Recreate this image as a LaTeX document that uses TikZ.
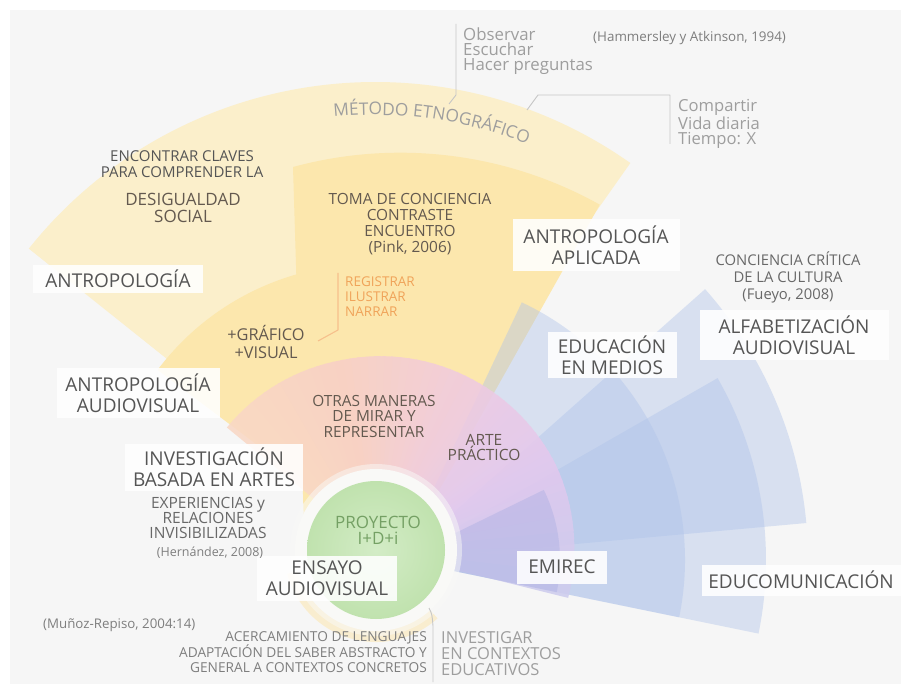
\documentclass[tikz,border=0pt]{standalone}
\usepackage{fontspec}
\setmainfont{Open Sans}
\usetikzlibrary{calc,decorations.text}
\newcommand\setfs[2]{\fontsize{#1}{#2}\selectfont}

\definecolor{bgray}{HTML}{F6F6F6}
\definecolor{ypale}{HTML}{FBEFCB}
\definecolor{ymid}{HTML}{FCE7AD}
\definecolor{blu}{HTML}{AFC3EA}
\definecolor{bluv}{HTML}{A6ACE0}
\definecolor{grn}{HTML}{C0E2AE}
\definecolor{grnlt}{HTML}{D3ECC6}
\definecolor{halo}{HTML}{F9F9F7}
\definecolor{rlav}{HTML}{CDCCEE}
\definecolor{rpur}{HTML}{E3C8EE}
\definecolor{rmag}{HTML}{EFCAE2}
\definecolor{rpink}{HTML}{F8CFC7}
\definecolor{rpeach}{HTML}{F9D8C6}
\definecolor{ryel}{HTML}{FAEBC6}
\definecolor{txtdark}{HTML}{555555}
\definecolor{txtbrown}{HTML}{63594F}
\definecolor{txtmid}{HTML}{686868}
\definecolor{txtlight}{HTML}{9E9E9E}
\definecolor{txtcite}{HTML}{7E7E7E}
\definecolor{txtorange}{HTML}{F0A45A}
\definecolor{txtgreen}{HTML}{74A064}
\definecolor{lnorange}{HTML}{F6C08C}
\definecolor{lngray}{HTML}{C6C6C6}

\begin{document}
\begin{tikzpicture}[x=1pt,y=-1pt,
  boxlbl/.style={fill=white, fill opacity=0.88, text opacity=1, text=txtdark,
    align=center, inner sep=0pt, font=\setfs{19}{21.5}},
  note/.style={align=center, inner sep=0pt},
  conn/.style={draw=lngray, line width=0.9pt, line join=round},
  bluesec/.style={fill=blu, fill opacity=0.42},
]
\useasboundingbox (0,0) rectangle (901,684);
\fill[white] (0,0) rectangle (901,684);
\fill[bgray] (10,10) rectangle (901,684);

\coordinate (cA) at (375,525);
\coordinate (cB) at (400,560);
\coordinate (cC) at (370,530);
\coordinate (cR) at (376,550);

% ethnographic method: outer band and inner sectors
\fill[ypale] (cA) -- ($(cA)+(-141.4:443)$) arc[start angle=-141.4,end angle=-54.8,radius=443] -- cycle;
\fill[ymid] (293,167) arc[start angle=-105.2,end angle=-60.8,radius=409] -- (cB) -- (305,560) -- cycle;
\fill[ymid] (cC) -- ($(cC)+(-143:266)$) arc[start angle=-143,end angle=-60,radius=266] -- cycle;

% media education sectors
\fill[bluesec] (cB) -- ($(cB)+(-5.2:408)$) arc[start angle=-5.2,end angle=-41.6,radius=408] -- cycle;
\fill[bluesec] (cB) -- ($(cB)+(11.6:366)$) arc[start angle=11.6,end angle=-29.8,radius=366] -- cycle;
\fill[bluesec] (cB) -- ($(cB)+(11.6:285)$) arc[start angle=11.6,end angle=-64.7,radius=285] -- cycle;

% arts ring with a colour sweep
\begin{scope}[transparency group, opacity=0.88]
\foreach \s/\e/\ca/\cb/\ra/\rb in {-14/25/rlav/rpur/198/199, 25/60/rpur/rmag/199/196,
    60/100/rmag/rpink/196/193, 100/140/rpink/rpeach/193/193}{
  \foreach \i in {0,...,15}{
    \pgfmathsetmacro\aa{-(\s+(\e-\s)*\i/16)}
    \pgfmathsetmacro\ab{-(\s+(\e-\s)*(\i+1)/16)-0.6}
    \pgfmathsetmacro\pc{100-100*(\i+0.5)/16}
    \pgfmathsetmacro\rr{\ra+(\rb-\ra)*(\i+0.5)/16}
    \fill[color=\ca!\pc!\cb] ($(cR)+(\aa:\rr)$) arc[start angle=\aa,end angle=\ab,radius=\rr]
      -- ($(cR)+(\ab:60)$) arc[start angle=\ab,end angle=\aa,radius=60] -- cycle;
  }
}
\end{scope}

% inner sector behind EMIREC
\fill[bluv, fill opacity=0.38] (cB) -- ($(cB)+(11.6:160)$) arc[start angle=11.6,end angle=-26,radius=160] -- cycle;

% project core: pale rim below, white halo, green disc
\fill[ryel, opacity=0.8] ($(cR)+(-195:92)$) arc[start angle=-195,end angle=-312,radius=92]
   -- ($(cR)+(-312:70)$) arc[start angle=-312,end angle=-195,radius=70] -- cycle;
\fill[halo, opacity=0.5] (cR) circle[radius=86];
\fill[halo] (cR) circle[radius=81];
\shade[inner color=grnlt, outer color=grn] (cR) circle[radius=69];

% curved title
\path[decorate, decoration={text along path, text align=center,
   text={|\setfs{17.3}{17.3}\color{txtlight}|MÉTODO ETNOGRÁFICO}}]
   ($(cA)+(-99:410)$) arc[start angle=-99,end angle=-65,radius=410];

% brackets
\coordinate (o1) at (456,24); \coordinate (o2) at (456,95); \coordinate (o3) at (449,104);
\draw[conn] (o1) -- (o2) -- (o3);
\coordinate (k1) at (527,110); \coordinate (k2) at (538,95);
\coordinate (k3) at (670,95); \coordinate (k4) at (670,144);
\draw[conn] (k1) -- (k2) -- (k3) -- (k4);
\coordinate (g1) at (338,273); \coordinate (g2) at (338,330); \coordinate (g3) at (318,341);
\draw[draw=lnorange, line width=1.1pt, line join=round] (g1) -- (g2) -- (g3);
\coordinate (iv1) at (429,608); \coordinate (iv2) at (433,626); \coordinate (iv3) at (433,682);
\draw[conn] (iv1) .. controls (432,614) .. (iv2) -- (iv3);

% boxed labels
\node[boxlbl, minimum width=170, minimum height=28] (antr) at (118,279) {ANTROPOLOGÍA};
\node[boxlbl, minimum width=163, minimum height=50] (antrav) at (138,393) {ANTROPOLOGÍA\\AUDIOVISUAL};
\node[boxlbl, minimum width=167, minimum height=52] (antrap) at (596,245) {ANTROPOLOGÍA\\APLICADA};
\node[boxlbl, minimum width=129, minimum height=46] (edmed) at (612,355) {EDUCACIÓN\\EN MEDIOS};
\node[boxlbl, minimum width=189, minimum height=50] (alfab) at (794,335) {ALFABETIZACIÓN\\AUDIOVISUAL};
\node[boxlbl, minimum width=178, minimum height=47] (invba) at (214,467) {INVESTIGACIÓN\\BASADA EN ARTES};
\node[boxlbl, minimum width=140, minimum height=45] (ensayo) at (327,578) {ENSAYO\\AUDIOVISUAL};
\node[boxlbl, minimum width=90, minimum height=33] (emirec) at (562,567) {EMIREC};
\node[boxlbl, minimum width=199, minimum height=31] (educom) at (801,580) {EDUCOMUNICACIÓN};

% free texts
\node[note, text=txtdark, font=\setfs{15}{16.5}] (encl) at (182,164) {ENCONTRAR CLAVES\\PARA COMPRENDER LA};
\node[note, text=txtbrown, font=\setfs{17}{17.5}] (desig) at (183,208) {DESIGUALDAD\\SOCIAL};
\node[note, text=txtbrown, font=\setfs{15.4}{15.8}] (toma) at (410,224) {TOMA DE CONCIENCIA\\CONTRASTE\\ENCUENTRO\\(Pink, 2006)};
\node[note, align=left, anchor=west, text=txtorange, font=\setfs{13.5}{15}] (regis) at (345,297) {REGISTRAR\\ILUSTRAR\\NARRAR};
\node[note, text=txtbrown, font=\setfs{16.3}{18}] (graf) at (266,342) {+GRÁFICO\\+VISUAL};
\node[note, text=txtbrown, font=\setfs{15.4}{15.5}] (otras) at (374,416) {OTRAS MANERAS\\DE MIRAR Y\\REPRESENTAR};
\node[note, text=txtbrown, font=\setfs{15.5}{15}] (arte) at (484,448) {ARTE\\PRÁCTICO};
\node[note, text=txtmid, font=\setfs{14.8}{17}] (conc) at (788,277) {CONCIENCIA CRÍTICA\\DE LA CULTURA\\(Fueyo, 2008)};
\node[note, text=txtmid, font=\setfs{15.5}{15}] (exper) at (208,518) {EXPERIENCIAS y\\RELACIONES\\INVISIBILIZADAS};
\node[note, text=txtcite, font=\setfs{12.5}{14}] (hern) at (210,553) {(Hernández, 2008)};
\node[note, text=txtgreen, font=\setfs{17}{16}] (proy) at (378,530) {PROYECTO\\I+D+i};
\node[note, anchor=west, text=txtcite, font=\setfs{13.3}{15}] (munoz) at (43,625) {(Muñoz-Repiso, 2004:14)};
\node[note, align=right, anchor=east, text=txtcite, font=\setfs{13.7}{15}] (acerc) at (427,652)
  {ACERCAMIENTO DE LENGUAJES\\ADAPTACIÓN DEL SABER ABSTRACTO Y\\GENERAL A CONTEXTOS CONCRETOS};
\node[note, align=left, anchor=west, text=txtlight, font=\setfs{16.5}{16}] (invest) at (441,654) {INVESTIGAR\\EN CONTEXTOS\\EDUCATIVOS};
\node[note, align=left, anchor=west, text=txtlight, font=\setfs{16.8}{15}] (obs) at (463,51) {Observar\\Escuchar\\Hacer preguntas};
\node[note, align=left, anchor=west, text=txtlight, font=\setfs{16.6}{15}] (comp) at (678,124) {Compartir\\Vida diaria\\Tiempo: X};
\node[note, anchor=west, text=txtcite, font=\setfs{13.4}{15}] (hamm) at (593,38) {(Hammersley y Atkinson, 1994)};
\end{tikzpicture}
\end{document}
